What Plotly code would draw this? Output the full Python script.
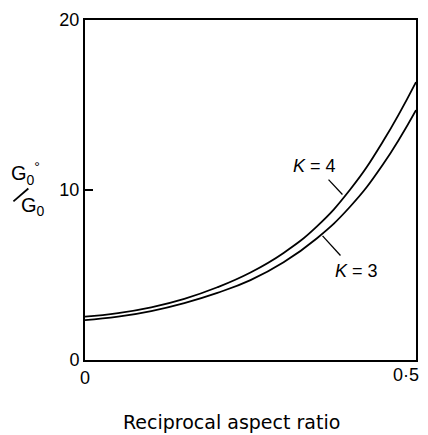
import plotly.graph_objects as go

# Reciprocal aspect ratio and stiffness ratio for two values of K
x_vals = [0.0, 0.05, 0.10, 0.15, 0.20, 0.25, 0.30, 0.35, 0.40, 0.45, 0.50]
k4_vals = [2.55, 2.76, 3.10, 3.60, 4.28, 5.15, 6.30, 7.85, 10.0, 12.85, 16.35]
k3_vals = [2.35, 2.55, 2.88, 3.35, 3.95, 4.70, 5.75, 7.15, 9.00, 11.5, 14.7]

y_ticks = [0, 10, 20]
y_tick_text = ["0", "10", "20"]
x_ticks = [0, 0.5]
x_tick_text = ["0", "0·5"]

W, H = 428, 435
ML, MR, MT, MB = 85, 10, 15, 75
PW, PH = W - ML - MR, H - MT - MB


def px(xp):
    return (xp - ML) / PW


def py(yp):
    return (H - MB - yp) / PH


FONT = "Liberation Sans"
TITLE_FONT = "DejaVu Sans"

fig = go.Figure()
for vals in (k4_vals, k3_vals):
    fig.add_trace(go.Scatter(
        x=x_vals, y=vals, mode="lines",
        line=dict(color="black", width=1.8, shape="spline", smoothing=1.3),
        showlegend=False, hoverinfo="skip",
    ))

fig.update_layout(
    width=W, height=H,
    margin=dict(l=ML, r=MR, t=MT, b=MB),
    paper_bgcolor="white", plot_bgcolor="white",
    font=dict(family=FONT, size=18, color="black"),
    showlegend=False,
)
fig.update_xaxes(
    range=[0, 0.5], showgrid=False, zeroline=False,
    showline=True, linecolor="black", linewidth=2, mirror=True,
    ticks="", showticklabels=False,
)
fig.update_yaxes(
    range=[0, 20], showgrid=False, zeroline=False,
    showline=True, linecolor="black", linewidth=2, mirror=True,
    tickvals=y_ticks, ticktext=y_tick_text,
    ticks="inside", ticklen=8, tickwidth=1.5, tickcolor="black",
    tickfont=dict(family=FONT, size=18),
)


def label(x, y, text, size=18, family=FONT, **kw):
    fig.add_annotation(x=x, y=y, text=text, showarrow=False,
                       xanchor="center", yanchor="middle",
                       font=dict(family=family, size=size, color="black"), **kw)


# x tick labels
label(x_ticks[0], 0, x_tick_text[0], xref="x", yref="y", yshift=-18)
label(x_ticks[1], 0, x_tick_text[1], xref="x", yref="y", xshift=-10, yshift=-15)

# x axis title
label(px(232), py(423), "Reciprocal aspect ratio", size=19, family=TITLE_FONT,
      xref="paper", yref="paper")

# y axis title as a diagonal fraction
label(px(25), py(171), "G<sub>0</sub><sup>°</sup>", size=20,
      xref="paper", yref="paper")
label(px(33), py(204), "G<sub>0</sub>", size=20,
      xref="paper", yref="paper")
fig.add_shape(type="line", xref="paper", yref="paper",
              x0=px(13), y0=py(199), x1=px(28), y1=py(186),
              line=dict(color="black", width=1.8))

# curve labels with leader lines
label(px(316), py(163), "<i>K</i> = 4", xref="paper", yref="paper")
fig.add_shape(type="line", xref="paper", yref="paper",
              x0=px(330), y0=py(177), x1=px(344), y1=py(192),
              line=dict(color="black", width=1.3))
label(px(358), py(270), "<i>K</i> = 3", xref="paper", yref="paper")
fig.add_shape(type="line", xref="paper", yref="paper",
              x0=px(324), y0=py(234), x1=px(342), y1=py(254),
              line=dict(color="black", width=1.3))

fig.write_html("out.html")
